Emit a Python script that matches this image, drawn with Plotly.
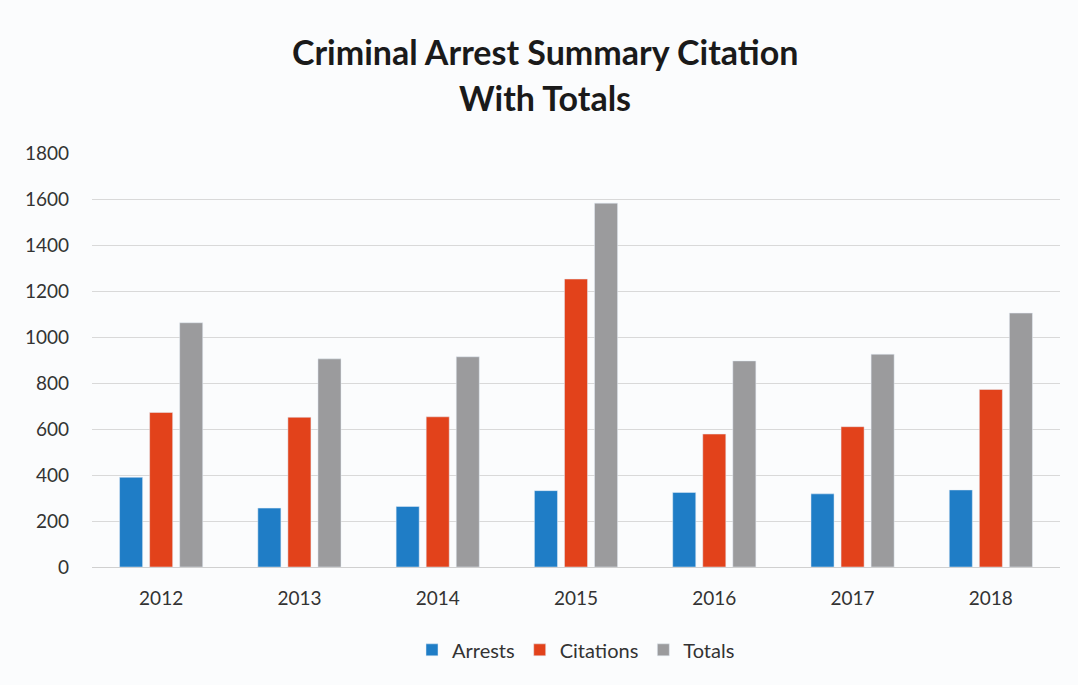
import plotly.graph_objects as go

years = ["2012", "2013", "2014", "2015", "2016", "2017", "2018"]
arrests = [390, 256, 263, 332, 324, 318, 335]
citations = [672, 651, 653, 1252, 578, 610, 772]
totals = [1062, 905, 914, 1582, 896, 925, 1104]
y_ticks = [0, 200, 400, 600, 800, 1000, 1200, 1400, 1600, 1800]

font_family = "Lato, 'Open Sans', sans-serif"

W, H = 1078, 685
ML, MR, MT, MB = 92, 18, 153, 118

fig = go.Figure()
fig.add_trace(go.Bar(name="Arrests", x=years, y=arrests, marker_color="#1f7dc6"))
fig.add_trace(go.Bar(name="Citations", x=years, y=citations, marker_color="#e2421b"))
fig.add_trace(go.Bar(name="Totals", x=years, y=totals, marker_color="#9b9b9d"))


def page_to_paper(px_x, px_y):
    """Convert page pixel coordinates to paper coordinates."""
    return ((px_x - ML) / (W - ML - MR), 1 + (MT - px_y) / (H - MT - MB))


title_lines = [("Criminal Arrest Summary Citation", 545, 51),
               ("With Totals", 545, 97)]
annotations = []
for text, px, py in title_lines:
    ax, ay = page_to_paper(px, py)
    annotations.append(dict(
        text=f"<b>{text}</b>", x=ax, y=ay, xref="paper", yref="paper",
        xanchor="center", yanchor="middle", showarrow=False,
        font=dict(size=34, color="#1a1a1a", family=font_family),
    ))

fig.update_layout(
    width=W,
    height=H,
    barmode="group",
    bargap=0.348,
    bargroupgap=0.233,
    paper_bgcolor="#fbfcfd",
    plot_bgcolor="#fbfcfd",
    margin=dict(l=ML, r=MR, t=MT, b=MB, autoexpand=False),
    font=dict(family=font_family, size=19, color="#333333"),
    showlegend=True,
    legend=dict(
        orientation="h",
        x=0.5,
        xanchor="center",
        y=-0.153,
        yanchor="top",
        font=dict(size=20, color="#333333"),
        traceorder="normal",
        itemwidth=30,
    ),
    xaxis=dict(
        showgrid=False,
        showline=True,
        linecolor="#d0d0d0",
        ticks="",
        ticklabelstandoff=14,
        tickfont=dict(size=19),
    ),
    yaxis=dict(
        range=[0, 1800],
        tickvals=y_ticks,
        showgrid=True,
        gridcolor="#d9d9d9",
        gridwidth=1,
        zeroline=False,
        ticks="",
        ticklabelstandoff=22,
        tickfont=dict(size=19),
    ),
    annotations=annotations,
)

fig.write_html("out.html")
